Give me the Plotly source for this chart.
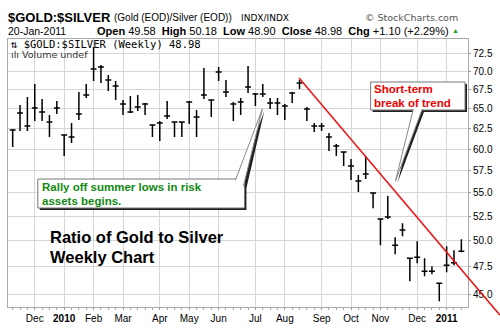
import plotly.graph_objects as go
import pandas as pd

# ---------------- data ----------------
week_start = "2009-11-16"
n_weeks = 62
dates = pd.date_range(week_start, periods=n_weeks, freq="7D")

high = [62.45, 65.51, 66.56, 68.30, 66.29, 64.22, 66.03, 61.72, 63.21, 67.23,
        68.30, 73.52, 70.93, 69.53, 68.71, 66.16, 66.69, 66.83, 65.77, 62.95,
        63.46, 66.03, 63.33, 63.33, 66.03, 64.86, 70.51, 66.16, 70.65, 68.84,
        65.90, 66.42, 70.79, 67.09, 68.30, 66.42, 66.42, 65.64, 67.23, 68.84,
        65.25, 63.21, 63.21, 61.96, 60.62, 59.66, 58.84, 57.00, 59.18, 54.99,
        52.32, 54.66, 50.38, 51.80, 48.32, 49.98, 48.32, 47.55, 45.97, 49.48,
        49.09, 50.18]
low = [60.26, 62.21, 62.21, 63.46, 63.46, 61.46, 64.35, 59.18, 60.74, 63.58,
       66.42, 68.71, 68.44, 67.36, 66.16, 64.22, 64.48, 64.74, 64.22, 61.46,
       60.98, 63.71, 61.46, 61.46, 63.08, 61.46, 66.29, 63.97, 68.71, 66.56,
       63.46, 64.22, 67.09, 65.38, 66.56, 64.99, 64.22, 63.58, 65.77, 67.63,
       63.46, 62.08, 62.21, 59.78, 59.18, 58.02, 56.43, 55.10, 56.54, 53.37,
       49.58, 52.22, 48.70, 50.48, 46.15, 47.84, 46.62, 46.80, 44.35, 46.99,
       47.65, 48.90]
close = [62.33, 64.48, 62.83, 65.12, 64.61, 63.33, 65.12, 61.72, 61.46, 64.35,
         66.83, 70.37, 70.65, 68.84, 68.03, 65.64, 64.61, 65.25, 65.64, 62.95,
         63.21, 64.10, 63.33, 63.33, 65.90, 63.97, 66.83, 66.16, 69.95, 67.23,
         65.64, 65.90, 67.90, 66.96, 66.96, 65.77, 65.77, 65.38, 67.09, 68.44,
         64.99, 62.83, 62.83, 61.46, 60.38, 59.66, 58.02, 56.32, 57.11, 54.99,
         52.22, 52.43, 49.58, 51.09, 48.32, 48.41, 47.08, 47.08, 45.97, 47.65,
         47.88, 48.98]

x_tick_dates = ["2009-12-07", "2010-01-04", "2010-02-01", "2010-03-01", "2010-04-05",
                "2010-05-03", "2010-05-31", "2010-07-05", "2010-08-02", "2010-09-06",
                "2010-10-04", "2010-11-01", "2010-12-06", "2011-01-03"]
x_tick_labels = ["Dec", "<b>2010</b>", "Feb", "Mar", "Apr", "May", "Jun", "Jul",
                 "Aug", "Sep", "Oct", "Nov", "Dec", "<b>2011</b>"]
y_tick_vals = [45.0, 47.5, 50.0, 52.5, 55.0, 57.5, 60.0, 62.5, 65.0, 67.5, 70.0, 72.5]
y_tick_labels = [f"{v:.1f}" for v in y_tick_vals]

# ---------------- layout helpers (pixel -> paper) ----------------
W, H = 500, 335
ML, MR, MT, MB = 7, 30, 39, 28
PW, PH = W - ML - MR, H - MT - MB


def PX(x):
    return (x - ML) / PW


def PY(y):
    return (H - MB - y) / PH


fig = go.Figure()
fig.add_trace(go.Ohlc(
    x=dates, open=close, high=high, low=low, close=close,
    increasing=dict(line=dict(color="black", width=1.5)),
    decreasing=dict(line=dict(color="black", width=1.5)),
    tickwidth=0.4, hoverinfo="skip", showlegend=False,
))

shapes = []


def rect(x0, y0, x1, y1, **kw):
    shapes.append(dict(type="rect", xref="paper", yref="paper",
                       x0=PX(x0), x1=PX(x1), y0=PY(y0), y1=PY(y1), **kw))


def path(points, closed=False, **kw):
    s = "M " + " L ".join(f"{PX(x):.5f},{PY(y):.5f}" for x, y in points)
    if closed:
        s += " Z"
    shapes.append(dict(type="path", xref="paper", yref="paper", path=s, **kw))


# trend line
shapes.append(dict(type="line", xref="paper", yref="paper",
                   x0=PX(300), y0=PY(78), x1=PX(502), y1=PY(315),
                   line=dict(color="#ee1111", width=1.5)))

# green callout
rect(39, 181, 247, 210, fillcolor="#222", line=dict(width=0))
path([(238, 182), (265, 111), (247, 188)], closed=True, fillcolor="#222", line=dict(width=0))
rect(37, 179, 245, 208, fillcolor="white", line=dict(color="#777", width=1))
path([(236, 180), (263, 109), (244, 186)], fillcolor="white", line=dict(color="#888", width=1))

# red callout
rect(374, 84, 469, 112, fillcolor="#222", line=dict(width=0))
path([(417, 111), (399, 183), (426, 111)], closed=True, fillcolor="#222", line=dict(width=0))
rect(372, 82, 467, 110, fillcolor="white", line=dict(color="#777", width=1))
path([(415, 109), (397, 181), (424, 109)], fillcolor="white", line=dict(color="#888", width=1))

annotations = []


def ann(text, x, y, size, color="black", xanchor="left", family="Liberation Sans, Arial"):
    annotations.append(dict(text=text, x=PX(x), y=PY(y), xref="paper", yref="paper",
                            xanchor=xanchor, yanchor="middle", showarrow=False,
                            font=dict(size=size, color=color, family=family)))


# header
ann("<b>$GOLD:$SILVER</b>", 5, 17, 13)
ann("(Gold (EOD)/Silver (EOD))", 112, 18, 10)
ann("INDX/INDX", 240, 18, 9, family="DejaVu Sans")
ann("© StockCharts.com", 462, 17.5, 9.5, color="#555", xanchor="right", family="DejaVu Sans")
ann("20-Jan-2011", 5, 31, 10.5)
ann("<b>Open</b> 49.58  <b>High</b> 50.18  <b>Low</b> 48.90  <b>Close</b> 48.98  "
    "<b>Chg</b> +1.10 (+2.29%)", 453, 31, 11, xanchor="right")
ann("▲", 463, 31, 7, color="#1a9a1a", xanchor="right")
ann("⇅ $GOLD:$SILVER (Weekly) 48.98", 8, 44, 10.5, family="DejaVu Sans Mono")
ann("ılı Volume undef", 8, 54, 9.5, color="#333", family="DejaVu Sans")

# callout texts
ann("<b>Rally off summer lows in risk</b>", 39, 187, 11.5, color="#108a10")
ann("<b>assets begins.</b>", 39, 201, 11.5, color="#108a10")
ann("<b>Short-term</b>", 373, 89, 11.5, color="#ee0000")
ann("<b>break of trend</b>", 373, 103, 11.5, color="#ee0000")

# title text
ann("<b>Ratio of Gold to Silver</b>", 47, 237, 16.5)
ann("<b>Weekly Chart</b>", 47, 257, 16.5)

fig.update_layout(
    width=W, height=H,
    margin=dict(l=ML, r=MR, t=MT, b=MB),
    paper_bgcolor="white", plot_bgcolor="white",
    showlegend=False, hovermode=False,
    shapes=shapes, annotations=annotations,
    font=dict(family="Liberation Sans, Arial", size=10, color="black"),
)
fig.update_xaxes(
    type="date",
    range=["2009-11-11 13:00", "2011-01-23 08:00"],
    rangeslider=dict(visible=False),
    tickvals=x_tick_dates, ticktext=x_tick_labels,
    showgrid=True, gridcolor="#d6d6d6", gridwidth=1,
    ticks="outside", ticklen=2, tickcolor="#999",
    minor=dict(ticks="outside", ticklen=2, tickcolor="#aaa",
               tick0=week_start, dtick=7 * 86400000, showgrid=False),
    showline=True, linecolor="#aaa", linewidth=1, mirror=True,
    zeroline=False, tickfont=dict(size=10, color="black"),
)
fig.update_yaxes(
    type="log", range=[1.6420, 1.8732], side="right",
    tickvals=y_tick_vals, ticktext=y_tick_labels,
    showgrid=True, gridcolor="#d6d6d6", gridwidth=1,
    ticks="outside", ticklen=2, tickcolor="#999",
    showline=True, linecolor="#aaa", linewidth=1, mirror=True,
    zeroline=False, tickfont=dict(size=10, color="black"),
)

fig.write_html("out.html")
